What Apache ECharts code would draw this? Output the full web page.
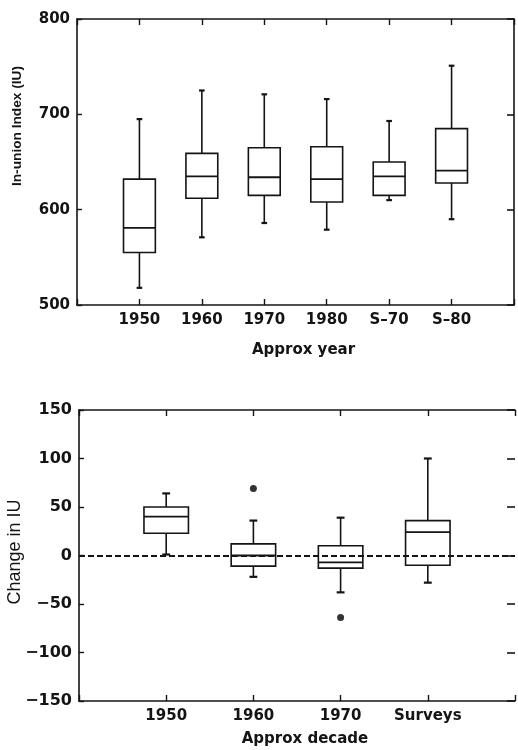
<!DOCTYPE html>
<html>
<head>
<meta charset="utf-8">
<script src="https://cdn.jsdelivr.net/npm/echarts@6/dist/echarts.min.js"></script>
<style>
    html, body { margin: 0; padding: 0; background: #fff; }
    #chart { width: 518px; height: 750px; }
</style>
</head>
<body>
<div id="chart"></div>
<script>
// top panel: In-union Index by approx year
const yearCats = ['1950', '1960', '1970', '1980', 'S\u201370', 'S\u201380'];
const iuMin = [518, 571, 586, 579, 610, 590];
const iuQ1 = [555, 612, 615, 608, 615, 628];
const iuMed = [581, 635, 634, 632, 635, 641];
const iuQ3 = [632, 659, 665, 666, 650, 685];
const iuMax = [695, 725, 721, 716, 693, 751];
const iuTicks = [500, 600, 700, 800];

// bottom panel: change in IU by approx decade
const decadeCats = ['1950', '1960', '1970', 'Surveys'];
const chMin = [1, -22, -38, -28];
const chQ1 = [23, -11, -13, -10];
const chMed = [40, 0, -7, 24];
const chQ3 = [50, 12, 10, 36];
const chMax = [64, 36, 39, 100];
const outlierCats = ['1960', '1970'];
const outlierVals = [69, -64];
const chTicks = [-150, -100, -50, 0, 50, 100, 150];

const INK = '#141414';
const LABEL_FONT = 'DejaVu Sans';

//方法
const _METHODS = {
    boxRows(cats, mins, q1s, meds, q3s, maxs) {
        return cats.map((c, i) => [i + 1, mins[i], q1s[i], meds[i], q3s[i], maxs[i]]);
    },
    renderBox(params, api) {
        const x = api.value(0);
        const lo = api.coord([x, api.value(1)]);
        const q1 = api.coord([x, api.value(2)]);
        const med = api.coord([x, api.value(3)]);
        const q3 = api.coord([x, api.value(4)]);
        const hi = api.coord([x, api.value(5)]);
        const unit = api.size([1, 0])[0];
        const half = unit * 0.255;
        const cap = unit * 0.045;
        const cx = lo[0];
        const style = {stroke: INK, lineWidth: 1.6, fill: 'none'};
        const line = (x1, y1, x2, y2, w) => ({
            type: 'line',
            shape: {x1, y1, x2, y2},
            style: Object.assign({}, style, w ? {lineWidth: w} : {})
        });
        return {
            type: 'group',
            children: [
                line(cx, hi[1], cx, q3[1]),
                line(cx, q1[1], cx, lo[1]),
                line(cx - cap, hi[1], cx + cap, hi[1], 2.2),
                line(cx - cap, lo[1], cx + cap, lo[1], 2.2),
                {
                    type: 'rect',
                    shape: {x: cx - half, y: q3[1], width: half * 2, height: q1[1] - q3[1]},
                    style: style
                },
                line(cx - half, med[1], cx + half, med[1], 1.8)
            ]
        };
    },
    xAxisPair(gridIndex, cats, n, labelSize) {
        return [
            {
                type: 'value', gridIndex, min: 0, max: n + 1, interval: 1,
                axisLine: {onZero: false, lineStyle: {color: INK, width: 1.6}},
                axisTick: {inside: true, length: 6, lineStyle: {color: INK, width: 1.4}},
                splitLine: {show: false},
                axisLabel: {
                    margin: 8, color: INK, fontFamily: LABEL_FONT, fontWeight: 'bold', fontSize: labelSize,
                    formatter: v => cats[v - 1] || ''
                }
            },
            {
                type: 'value', gridIndex, position: 'top', min: 0, max: n + 1, interval: 1,
                axisLine: {onZero: false, lineStyle: {color: INK, width: 1.6}},
                axisTick: {inside: true, length: 6, lineStyle: {color: INK, width: 1.4}},
                splitLine: {show: false},
                axisLabel: {show: false}
            }
        ];
    },
    yAxisPair(gridIndex, ticks, labelSize, rightTick, rightLine) {
        const step = ticks[1] - ticks[0];
        return [
            {
                type: 'value', gridIndex, min: ticks[0], max: ticks[ticks.length - 1], interval: step,
                axisLine: {onZero: false, lineStyle: {color: INK, width: 1.6}},
                axisTick: {inside: true, length: 5, lineStyle: {color: INK, width: 1.4}},
                splitLine: {show: false},
                axisLabel: {
                    margin: 7, color: INK, fontFamily: LABEL_FONT, fontWeight: 'bold', fontSize: labelSize,
                    formatter: v => String(v).replace('-', '\u2212')
                }
            },
            {
                type: 'value', gridIndex, position: 'right', min: ticks[0], max: ticks[ticks.length - 1], interval: step,
                axisLine: {show: rightLine, onZero: false, lineStyle: {color: INK, width: 1.6}},
                axisTick: {show: true, inside: true, length: rightTick, lineStyle: {color: INK, width: 1.6}},
                splitLine: {show: false},
                axisLabel: {show: false}
            }
        ];
    },
    initChart() {
        const topX = _METHODS.xAxisPair(0, yearCats, yearCats.length, 15);
        const botX = _METHODS.xAxisPair(1, decadeCats, decadeCats.length, 15);
        topX[0].name = 'Approx year';
        botX[0].name = 'Approx decade';
        [topX[0], botX[0]].forEach(ax => {
            ax.nameLocation = 'middle';
            ax.nameTextStyle = {
                color: INK, fontFamily: LABEL_FONT, fontWeight: 'bold', fontSize: 15,
                padding: [0, 0, 0, 16]
            };
        });
        topX[0].nameGap = 38;
        botX[0].nameGap = 31;

        const topY = _METHODS.yAxisPair(0, iuTicks, 15, 7, true);
        // the right edge of the lower frame falls off the page in the original
        const botY = _METHODS.yAxisPair(1, chTicks, 16, 8, false);

        const outliers = outlierCats.map((c, i) => [decadeCats.indexOf(c) + 1, outlierVals[i]]);

        const option = {
            animation: false,
            backgroundColor: '#fff',
            grid: [
                {left: 77, top: 19, width: 437, height: 286},
                {left: 79, top: 410, width: 441.5, height: 291}
            ],
            xAxis: [...topX, ...botX],
            yAxis: [...topY, ...botY],
            graphic: [
                {
                    type: 'text', x: 17.5, y: 126, rotation: Math.PI / 2,
                    style: {
                        text: 'In-union Index (IU)', fill: INK, font: 'bold 13.7px "Liberation Sans"',
                        align: 'center', verticalAlign: 'middle'
                    }
                },
                {
                    type: 'text', x: 15, y: 552, rotation: Math.PI / 2,
                    style: {
                        text: 'Change in IU', fill: INK, font: '18px "Liberation Sans"',
                        align: 'center', verticalAlign: 'middle'
                    }
                }
            ],
            series: [
                {
                    type: 'custom',
                    xAxisIndex: 0,
                    yAxisIndex: 0,
                    renderItem: _METHODS.renderBox,
                    encode: {x: 0, y: [1, 2, 3, 4, 5]},
                    data: _METHODS.boxRows(yearCats, iuMin, iuQ1, iuMed, iuQ3, iuMax)
                },
                {
                    type: 'custom',
                    xAxisIndex: 2,
                    yAxisIndex: 2,
                    renderItem: _METHODS.renderBox,
                    encode: {x: 0, y: [1, 2, 3, 4, 5]},
                    data: _METHODS.boxRows(decadeCats, chMin, chQ1, chMed, chQ3, chMax),
                    markLine: {
                        silent: true,
                        symbol: 'none',
                        label: {show: false},
                        lineStyle: {color: INK, type: [6, 3], width: 2},
                        data: [{yAxis: 0}]
                    }
                },
                {
                    type: 'scatter',
                    xAxisIndex: 2,
                    yAxisIndex: 2,
                    symbol: 'circle',
                    symbolSize: 7,
                    itemStyle: {color: '#000'},
                    data: outliers
                }
            ]
        };
        let myChart = echarts.init(document.querySelector('#chart'));
        myChart.setOption(option);
    }
};

function start() {
    _METHODS.initChart();
}

start();
</script>
</body>
</html>
